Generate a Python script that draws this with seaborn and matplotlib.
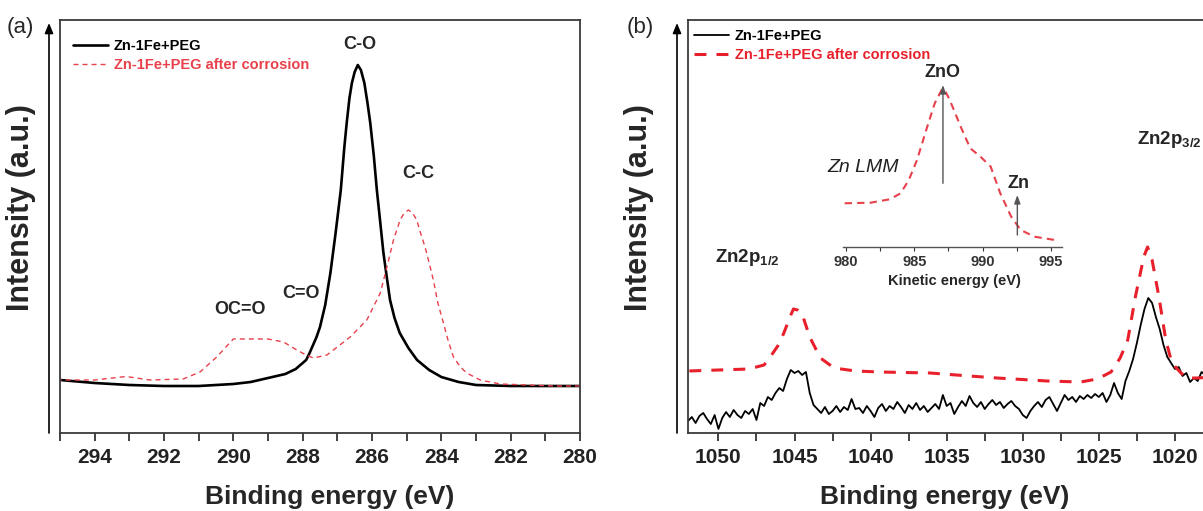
import numpy as np
import matplotlib
matplotlib.use("Agg")
import matplotlib.pyplot as plt
from matplotlib.ticker import MultipleLocator, FixedLocator
import seaborn as sns

# --- 1. Data (intensity in arbitrary units) ---

# (a) C1s region
c1s_be_black = [295.0, 294.0, 293.0, 292.0, 291.0, 290.0, 289.5, 289.0, 288.5, 288.2, 287.9,
                287.8, 287.7, 287.6, 287.5, 287.35, 287.2, 287.05, 286.9, 286.8, 286.73, 286.65,
                286.58, 286.5, 286.41, 286.32, 286.22, 286.13, 286.05, 285.95, 285.86, 285.76,
                285.67, 285.57, 285.48, 285.35, 285.2, 284.95, 284.7, 284.35, 284.0, 283.5,
                283.0, 282.0, 281.0, 280.0]
c1s_int_black = [53, 50, 48, 47, 47, 49, 51, 55, 59, 64, 73,
                 80, 88, 96, 106, 128, 160, 200, 243, 285, 310, 335,
                 350, 361, 368, 363, 350, 330, 310, 278, 243, 210,
                 180, 155, 133, 115, 100, 85, 73, 63, 56, 51,
                 48, 47, 47, 47]

c1s_be_red = [295.0, 294.0, 293.1, 292.4, 291.45, 290.96, 290.48, 290.0, 289.5, 289.0, 288.55,
              288.17, 287.9, 287.69, 287.3, 286.63, 286.15, 285.76, 285.57, 285.38, 285.19,
              285.07, 284.95, 284.83, 284.71, 284.6, 284.47, 284.35, 284.23, 284.1, 283.94,
              283.8, 283.65, 283.45, 283.27, 282.88, 282.3, 281.5, 280.7, 280.0]
c1s_int_red = [53, 53, 56.5, 53, 54, 61, 76, 94, 94, 94, 91,
               83, 78, 75, 78, 96, 113, 140, 166, 193, 213,
               220, 223, 220, 213, 200, 186, 170, 153, 130, 110,
               92, 76, 66, 60, 53, 49, 48, 47, 47]

# (b) Zn2p region
zn_be_red = [1052, 1048, 1047, 1046.6, 1046.1, 1045.7, 1045.3, 1045.07, 1044.8, 1044.5,
             1044.0, 1043.3, 1042.4, 1041, 1039.4, 1036.1, 1033.5, 1031.7, 1028.4, 1026.2,
             1025.1, 1024.2, 1023.6, 1023.1, 1022.6, 1022.05, 1021.8, 1021.5, 1021.05, 1020.6,
             1020.2, 1019.6, 1019.2, 1018.5, 1017.5, 1016, 1015]
zn_int_red = [62, 64, 68, 76, 87, 100, 116, 124, 123, 119,
              96, 75, 65, 62, 61, 60, 57, 55, 52, 51,
              54, 61, 75, 93, 136, 176, 186, 173, 136, 93,
              70, 60, 55, 55, 56, 57, 58]

# raw scan, 0.25 eV steps from 1052 down to 1015 eV
zn_int_black = [12, 16, 10, 17, 20, 14, 9, 18, 4, 15,
                21, 16, 23, 18, 15, 22, 19, 24, 13, 30,
                27, 36, 33, 40, 45, 42, 54, 63, 60, 62,
                58, 61, 40, 28, 24, 20, 26, 19, 22, 27,
                21, 26, 23, 34, 24, 25, 20, 27, 22, 16,
                25, 29, 22, 27, 24, 31, 26, 20, 28, 24,
                30, 23, 27, 21, 25, 29, 24, 38, 27, 30,
                19, 26, 32, 27, 37, 30, 26, 31, 24, 29,
                33, 28, 31, 25, 29, 32, 27, 24, 18, 15,
                22, 27, 31, 26, 33, 36, 29, 22, 30, 38,
                33, 36, 31, 37, 34, 38, 35, 39, 36, 40,
                31, 38, 50, 40, 34, 52, 62, 74, 90, 108,
                124, 135, 130, 116, 104, 88, 76, 70, 64, 66,
                57, 60, 51, 55, 52, 61, 58, 60, 55, 59,
                57, 58, 56, 60, 57, 59, 56, 58, 57]
zn_be_black = np.linspace(1052.0, 1015.0, len(zn_int_black))

zn_ticks = [1050, 1045, 1040, 1035, 1030, 1025, 1020]

# inset: Zn LMM Auger
lmm_ke = [979.9, 981.8, 983.2, 984.0, 984.6, 985.2, 985.95, 986.5, 987.0, 987.2,
          987.6, 988.4, 989.1, 989.85, 990.6, 991.3, 992.1, 992.8, 993.8, 995.3]
lmm_int = [43.4, 44, 47.4, 53.4, 66.7, 86.7, 120, 143.4, 156.7, 157.4,
           146.7, 120, 98.4, 90, 80, 53.4, 30, 16.7, 10, 6.7]

LABEL_BLACK = "Zn-1Fe+PEG"
LABEL_RED = "Zn-1Fe+PEG after corrosion"

RED_A = "#e8414b"
RED_B = "#e8202c"

# --- 2. Style ---
sns.set_style("ticks")
plt.rcParams['font.family'] = ['Liberation Sans', 'DejaVu Sans']
plt.rcParams['font.weight'] = 'bold'
plt.rcParams['mathtext.fontset'] = 'custom'
plt.rcParams['mathtext.rm'] = 'Liberation Sans'
plt.rcParams['mathtext.bf'] = 'Liberation Sans:bold'
plt.rcParams['mathtext.it'] = 'Liberation Sans:italic'

W, H = 1203, 511
fig = plt.figure(figsize=(W / 100, H / 100), dpi=100)


def px_box(x0, y0, x1, y1):
    # pixel box (top-left origin) -> figure fraction rect
    return [x0 / W, 1 - y1 / H, (x1 - x0) / W, (y1 - y0) / H]


ax_a = fig.add_axes(px_box(60, 20, 580, 433))
ax_b = fig.add_axes(px_box(688, 20, 1251, 433))
ax_in = fig.add_axes(px_box(843.3, 82, 1061.7, 246.7))


def style_main(ax):
    for s in ax.spines.values():
        s.set_color('#3a3a3a')
        s.set_linewidth(1.3)
    ax.tick_params(axis='x', which='both', direction='out', length=6, width=1.2,
                   labelsize=15, pad=5, colors='#222222')
    ax.tick_params(axis='y', which='both', left=False, labelleft=False)
    ax.set_ylabel("Intensity (a.u.)", fontsize=22, fontweight='bold')
    ax.set_xlabel("Binding energy (eV)", fontsize=19, fontweight='bold')
    ax.set_ylim(0, 413)


LEG = dict(loc='upper left', frameon=False, prop={'weight': 'bold', 'size': 10.5},
           handlelength=2.4, handletextpad=0.4, labelspacing=0.35, borderaxespad=0,
           borderpad=0, labelcolor='linecolor')

# --- 3. Panel (a) ---
sns.lineplot(x=c1s_be_black, y=c1s_int_black, ax=ax_a, color='black', lw=1.9,
             label=LABEL_BLACK, errorbar=None)
sns.lineplot(x=c1s_be_red, y=c1s_int_red, ax=ax_a, color=RED_A, lw=1.0,
             linestyle=(0, (3.6, 2.9)), label=LABEL_RED, errorbar=None)
style_main(ax_a)
ax_a.set_xlim(295, 280)
ax_a.xaxis.set_major_locator(MultipleLocator(2))
ax_a.xaxis.set_minor_locator(MultipleLocator(1))
ax_a.xaxis.set_label_coords(0.519, -0.125)
ax_a.yaxis.set_label_coords(-0.046, 0.547)
ax_a.legend(bbox_to_anchor=(13 / 520, 1 - 19 / 413), **LEG)

for txt, be, y in [("C-O", 286.34, 388), ("C-C", 284.67, 260),
                   ("C=O", 288.04, 140), ("OC=O", 289.8, 123)]:
    ax_a.text(be, y, txt, ha='center', va='center', fontsize=13, fontweight='bold')

# --- 4. Panel (b) ---
sns.lineplot(x=zn_be_black, y=zn_int_black, ax=ax_b, color='black', lw=1.3,
             label=LABEL_BLACK, errorbar=None)
sns.lineplot(x=zn_be_red, y=zn_int_red, ax=ax_b, color=RED_B, lw=2.2,
             linestyle=(0, (3.9, 3.3)), label=LABEL_RED, errorbar=None)
style_main(ax_b)
ax_b.set_xlim(1052, 1015)
ax_b.xaxis.set_major_locator(FixedLocator(zn_ticks))
ax_b.xaxis.set_minor_locator(MultipleLocator(2.5))
ax_b.xaxis.set_label_coords(0.456, -0.125)
ax_b.yaxis.set_label_coords(-0.060, 0.547)
ax_b.legend(bbox_to_anchor=(6 / 563, 1 - 9 / 413), **LEG)

ax_b.text(1050.2, 176, r"Zn2p$_{\mathbf{1/2}}$", ha='left', va='center',
          fontsize=13.5, fontweight='bold')
ax_b.text(1022.46, 293, r"Zn2p$_{\mathbf{3/2}}$", ha='left', va='center',
          fontsize=13.5, fontweight='bold')

# --- 5. Inset (Zn LMM) ---
sns.lineplot(x=lmm_ke, y=lmm_int, ax=ax_in, color=RED_A, lw=1.5,
             linestyle=(0, (3.5, 2.5)), errorbar=None)
ax_in.set_facecolor('none')
ax_in.set_xlim(979.8, 995.8)
ax_in.set_ylim(0, 164.7)
for side in ['left', 'right', 'top']:
    ax_in.spines[side].set_visible(False)
ax_in.spines['bottom'].set_color('#555555')
ax_in.spines['bottom'].set_linewidth(1.0)
ax_in.xaxis.set_major_locator(MultipleLocator(5))
ax_in.xaxis.set_minor_locator(MultipleLocator(2.5))
ax_in.tick_params(axis='x', which='both', direction='out', length=3, width=0.8,
                  labelsize=10.5, pad=3, colors='#333333')
ax_in.tick_params(axis='y', left=False, labelleft=False)
ax_in.set_ylabel("")
ax_in.set_xlabel("Kinetic energy (eV)", fontsize=10.5, fontweight='bold')
ax_in.xaxis.set_label_coords(0.511, -0.165)

ax_in.annotate('', xy=(987.1, 161.7), xytext=(987.1, 63.4),
               arrowprops=dict(arrowstyle='-|>,head_length=0.5,head_width=0.18',
                               color='#555555', lw=1.0, shrinkA=0, shrinkB=0),
               annotation_clip=False)
ax_in.annotate('', xy=(992.55, 51.7), xytext=(992.55, 11.7),
               arrowprops=dict(arrowstyle='-|>,head_length=0.5,head_width=0.18',
                               color='#555555', lw=1.0, shrinkA=0, shrinkB=0),
               annotation_clip=False)
ax_in.text(987.1, 173.7, "ZnO", ha='center', va='center', fontsize=13, fontweight='bold')
ax_in.text(992.6, 63.4, "Zn", ha='center', va='center', fontsize=13, fontweight='bold')
ax_in.text(981.25, 78.7, "Zn LMM", ha='center', va='center', fontsize=14,
           fontweight='normal', fontstyle='italic', color='#222222')

# --- 6. Intensity arrows and panel letters ---
for x_px in (49, 677):
    fig.add_artist(matplotlib.patches.FancyArrowPatch(
        (x_px / W, 1 - 433 / H), (x_px / W, 1 - 23 / H), transform=fig.transFigure,
        arrowstyle='-|>,head_length=6,head_width=2.5', color='black', lw=1.2,
        shrinkA=0, shrinkB=0))

fig.text(7 / W, 1 - 28 / H, "(a)", fontsize=16, fontweight='normal', va='center', ha='left')
fig.text(627 / W, 1 - 28 / H, "(b)", fontsize=16, fontweight='normal', va='center', ha='left')

fig.savefig("out.png", dpi=100)
